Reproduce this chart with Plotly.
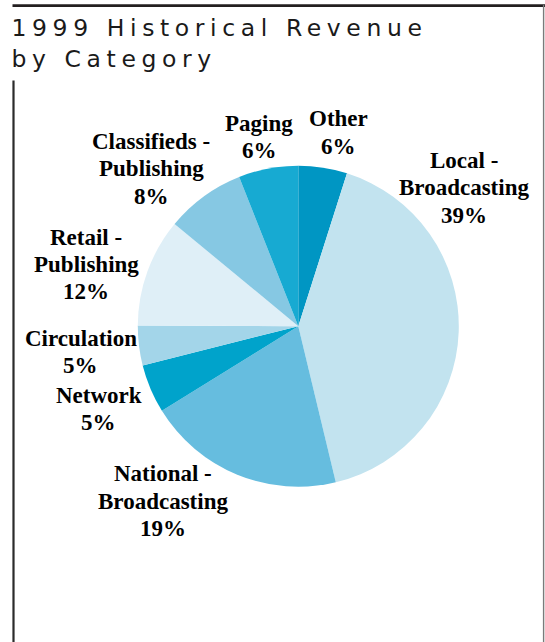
import plotly.graph_objects as go

# ---- data ----
categories = ["Other", "Local -<br>Broadcasting", "National -<br>Broadcasting", "Network",
              "Circulation", "Retail -<br>Publishing", "Classifieds -<br>Publishing", "Paging"]
values = [4.9, 41.3, 19.9, 4.9, 4.0, 10.9, 8.0, 6.0]
pct_labels = ["6%", "39%", "19%", "5%", "5%", "12%", "8%", "6%"]
colors = ["#0096C3", "#C2E3EF", "#66BDDF", "#00A3CB", "#A3D5E9", "#DFEFF7", "#86C8E3", "#17AAD2"]

W, H = 545, 642
# label anchor (center x, baseline of first line) in pixels
label_pos = [(338, 126.7), (464, 168.3), (163, 481.7), (98.5, 403.3),
             (80.5, 346), (86, 245), (151, 149.3), (259, 131.5)]
LINE = 27.3
FS = 23


def px(x):
    return x / W


def py(y):
    return 1 - y / H


cx, cy, r = 298.3, 326.2, 160.5

fig = go.Figure(go.Pie(
    labels=[c.replace("<br>", " ") for c in categories],
    values=values,
    sort=False,
    direction="clockwise",
    rotation=0,
    marker=dict(colors=colors, line=dict(width=0)),
    textinfo="none",
    hoverinfo="label+percent",
    showlegend=False,
    domain=dict(x=[px(cx - r), px(cx + r)], y=[py(cy + r), py(cy - r)]),
))

annotations = []
for cat, pct, (lx, ly) in zip(categories, pct_labels, label_pos):
    lines = cat.split("<br>") + [pct]
    for i, t in enumerate(lines):
        base = ly + i * LINE
        annotations.append(dict(
            x=px(lx), y=py(base - 7.8), xref="paper", yref="paper",
            xanchor="center", yanchor="middle", showarrow=False,
            text="<b>" + t + "</b>",
            font=dict(family="Liberation Serif", size=FS, color="#000000"),
        ))

shapes = [
    dict(type="line", xref="paper", yref="paper", x0=px(12.5), x1=px(545), y0=py(5.6), y1=py(5.6),
         line=dict(color="#231F20", width=2.6)),
    dict(type="line", xref="paper", yref="paper", x0=px(543.6), x1=px(543.6), y0=py(5), y1=py(642),
         line=dict(color="#7A7A7A", width=1.4)),
    dict(type="line", xref="paper", yref="paper", x0=px(13.5), x1=px(13.5), y0=py(80.5), y1=py(642),
         line=dict(color="#2B2B2B", width=2.2)),
]

fig.update_layout(
    width=W, height=H,
    margin=dict(l=0, r=0, t=0, b=0),
    paper_bgcolor="white", plot_bgcolor="white",
    title=dict(text="1999 Historical Revenue<br>by Category", x=px(11.5), xanchor="left",
               xref="paper", yref="container", y=py(36), yanchor="top",
               font=dict(family="DejaVu Sans", size=23.5, color="#1A1A1A")),
    annotations=annotations,
    shapes=shapes,
)

post = """
document.body.style.margin='0';
document.querySelectorAll('.gtitle').forEach(function(e){e.style.letterSpacing='5.6px';});
"""
fig.write_html("out.html", post_script=post, config={"displayModeBar": False})
